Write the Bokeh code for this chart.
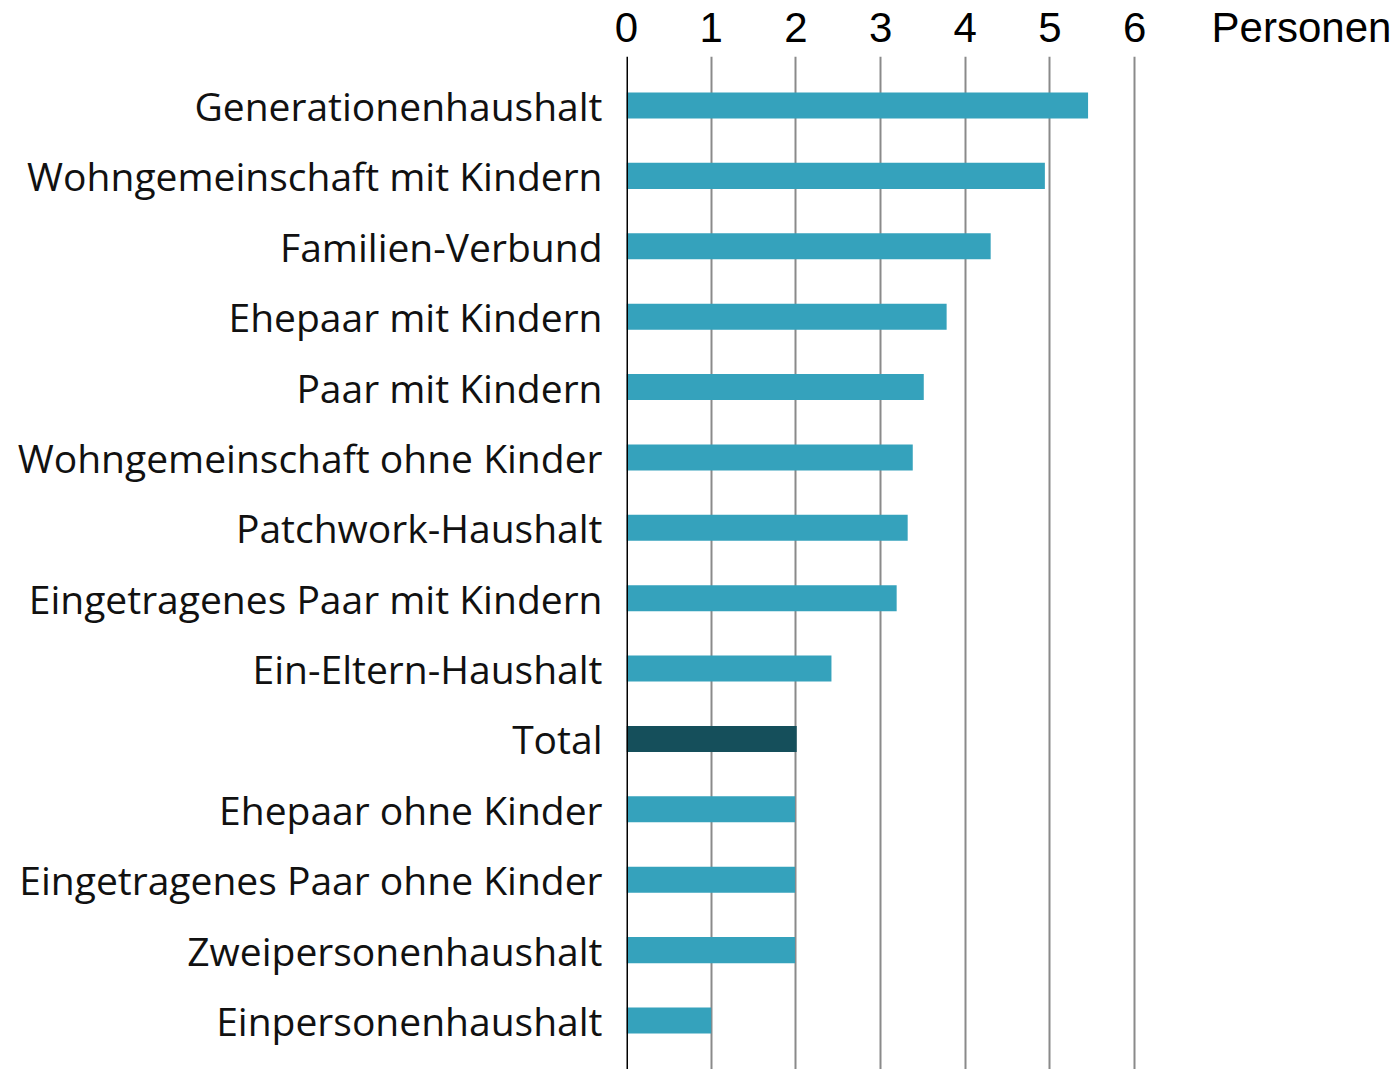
from bokeh.plotting import figure
from bokeh.models import FactorRange, Range1d, Span, FixedTicker
from bokeh.embed import file_html
from bokeh.resources import INLINE

categories = [
    "Generationenhaushalt",
    "Wohngemeinschaft mit Kindern",
    "Familien-Verbund",
    "Ehepaar mit Kindern",
    "Paar mit Kindern",
    "Wohngemeinschaft ohne Kinder",
    "Patchwork-Haushalt",
    "Eingetragenes Paar mit Kindern",
    "Ein-Eltern-Haushalt",
    "Total",
    "Ehepaar ohne Kinder",
    "Eingetragenes Paar ohne Kinder",
    "Zweipersonenhaushalt",
    "Einpersonenhaushalt",
]
values = [5.45, 4.94, 4.30, 3.78, 3.51, 3.38, 3.32, 3.19, 2.42, 2.01, 1.99, 1.99, 1.99, 1.0]
highlight = "Total"
tick_values = [0, 1, 2, 3, 4, 5, 6]
unit_label = "Personen"
unit_pos = 7.97

colors = ["#154f5b" if c == highlight else "#35a2bc" for c in categories]

p = figure(
    width=1395, height=1069,
    y_range=FactorRange(*reversed(categories), range_padding=0.196, range_padding_units="absolute"),
    x_range=Range1d(0, 9.08),
    x_axis_location="above",
    output_backend="svg", toolbar_location=None,
    min_border_left=626, min_border_right=0, min_border_top=55, min_border_bottom=0,
)
p.outline_line_color = None
p.background_fill_color = "white"
p.border_fill_color = "white"

p.hbar(y=categories, right=values, left=0, height=0.37, fill_color=colors, line_color=None)

p.ygrid.grid_line_color = None
p.xgrid.ticker = FixedTicker(ticks=tick_values[1:])
p.xgrid.grid_line_color = "#8a8a8a"
p.xgrid.grid_line_width = 2

p.add_layout(Span(location=0, dimension="height", line_color="black", line_width=3, level="overlay"))

xa = p.xaxis[0]
xa.ticker = FixedTicker(ticks=tick_values + [unit_pos])
xa.major_label_overrides = {unit_pos: unit_label}
xa.axis_line_color = None
xa.major_tick_line_color = None
xa.minor_tick_line_color = None
xa.major_label_text_font = "Liberation Sans"
xa.major_label_text_font_size = "42px"
xa.major_label_text_color = "black"
xa.major_label_standoff = 0

ya = p.yaxis[0]
ya.axis_line_color = None
ya.major_tick_line_color = None
ya.minor_tick_line_color = None
ya.major_label_text_font = "Open Sans"
ya.major_label_text_font_size = "39px"
ya.major_label_text_color = "#111111"
ya.major_label_standoff = 18

open("out.html", "w").write(file_html(p, INLINE))
